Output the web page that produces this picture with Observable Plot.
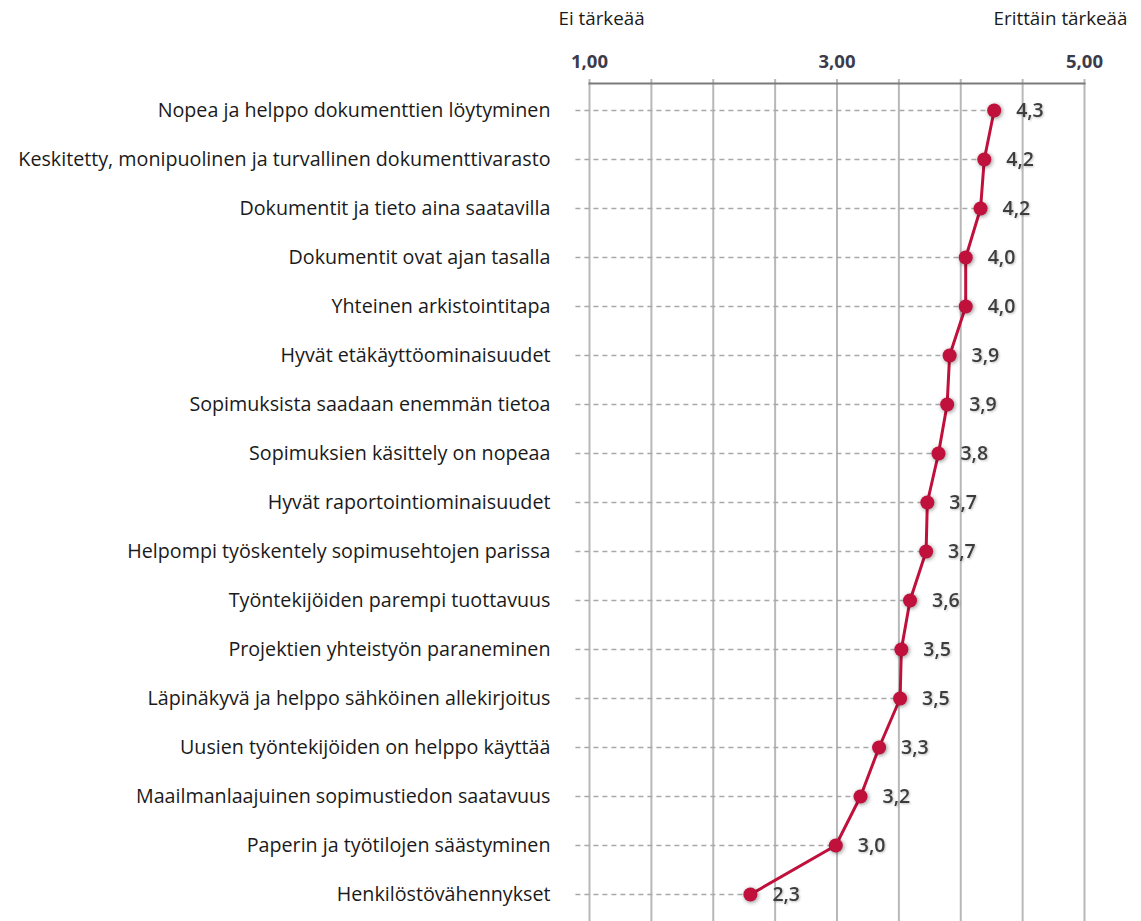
<!DOCTYPE html>
<html><head><meta charset="utf-8">
<script src="https://cdn.jsdelivr.net/npm/d3@7"></script>
<script src="https://cdn.jsdelivr.net/npm/@observablehq/plot@0.6"></script>
<style>
body{margin:0;background:#fff;}
g[aria-label="dot"] circle{filter: drop-shadow(1px 1px 2px rgba(0,0,0,0.45));}
g.vlabels text{filter: drop-shadow(1px 1px 1px rgba(0,0,0,0.25));}
</style>
</head><body><div id="chart"></div>
<script>
const categories = [
  "Nopea ja helppo dokumenttien löytyminen",
  "Keskitetty, monipuolinen ja turvallinen dokumenttivarasto",
  "Dokumentit ja tieto aina saatavilla",
  "Dokumentit ovat ajan tasalla",
  "Yhteinen arkistointitapa",
  "Hyvät etäkäyttöominaisuudet",
  "Sopimuksista saadaan enemmän tietoa",
  "Sopimuksien käsittely on nopeaa",
  "Hyvät raportointiominaisuudet",
  "Helpompi työskentely sopimusehtojen parissa",
  "Työntekijöiden parempi tuottavuus",
  "Projektien yhteistyön paraneminen",
  "Läpinäkyvä ja helppo sähköinen allekirjoitus",
  "Uusien työntekijöiden on helppo käyttää",
  "Maailmanlaajuinen sopimustiedon saatavuus",
  "Paperin ja työtilojen säästyminen",
  "Henkilöstövähennykset"
];
const values = [4.27, 4.19, 4.16, 4.04, 4.04, 3.91, 3.89, 3.82, 3.73, 3.72, 3.59, 3.52, 3.51, 3.34, 3.19, 2.99, 2.30];
const xTickValues = [1, 3, 5];
const gridValues = [1, 1.5, 2, 2.5, 3, 3.5, 4, 4.5, 5];
const dashStart = 0.89;
const leftLabel = "Ei tärkeää";
const rightLabel = "Erittäin tärkeää";

const data = categories.map((c, i) => ({category: c, value: values[i]}));
const fmt1 = d => d.toFixed(1).replace(".", ",");
const fmt2 = d => d.toFixed(2).replace(".", ",");
const red = "#c0103c";

const chart = Plot.plot({
  width: 1141,
  height: 921,
  marginLeft: 589,
  marginRight: 57,
  marginTop: 83,
  marginBottom: 0,
  style: {fontFamily: "'Open Sans', sans-serif", fontSize: "17px", color: "#222", background: "#fff", overflow: "visible"},
  x: {domain: [1, 5], axis: null},
  y: {type: "point", domain: categories, padding: 0, insetTop: 24, insetBottom: 24, axis: null},
  marks: [
    Plot.ruleX(gridValues, {stroke: "#b8b8b8", strokeWidth: 2, insetTop: -4}),
    Plot.ruleY(data, {y: "category", x1: dashStart, x2: "value", stroke: "#a8a8a8", strokeWidth: 1.5, strokeDasharray: "5,4"}),
    Plot.frame({anchor: "top", stroke: "#7a7a7a", strokeWidth: 2}),
    Plot.axisX({anchor: "top", label: null, ticks: xTickValues, tickFormat: fmt2, tickSize: 0, tickPadding: 16, fontWeight: "bold", fill: "#3b3b4b", fontSize: 18.5}),
    Plot.axisY({anchor: "left", label: null, tickSize: 0, tickPadding: 39, fontSize: 19.7, fill: "#1a1a1a"}),
    Plot.line(data, {x: "value", y: "category", stroke: red, strokeWidth: 3}),
    Plot.dot(data, {x: "value", y: "category", r: 7, fill: red, stroke: "none"}),
    Plot.text(data, {x: "value", y: "category", text: d => fmt1(d.value), dx: 22, textAnchor: "start", fontSize: 19.5, fill: "#3d3d3d", fontWeight: 600, className: "vlabels"}),
    Plot.text([leftLabel], {x: 1, frameAnchor: "top", lineAnchor: "middle", dy: -65, dx: -31, textAnchor: "start", text: d => d, fontSize: 18.8, fill: "#1a1a1a"}),
    Plot.text([rightLabel], {x: 5, frameAnchor: "top", lineAnchor: "middle", dy: -65, dx: 43, textAnchor: "end", text: d => d, fontSize: 18.8, fill: "#1a1a1a"})
  ]
});
document.getElementById("chart").appendChild(chart);
</script>
</body></html>
